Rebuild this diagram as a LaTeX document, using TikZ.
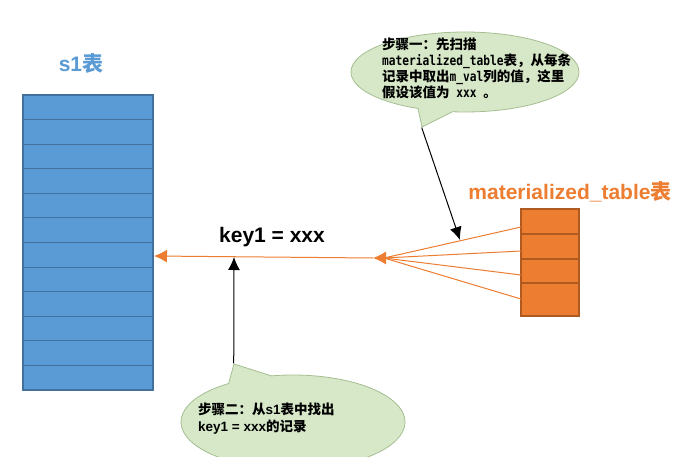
\documentclass[tikz,border=0pt]{standalone}
\usepackage{fontspec}
\setmainfont{Liberation Sans}
\newfontfamily\cjk{Noto Sans CJK SC}
\newfontfamily\monof[FakeStretch=0.83]{DejaVu Sans Mono}
\usetikzlibrary{shapes.callouts,arrows.meta}
\definecolor{tblblue}{RGB}{91,155,213}
\definecolor{tblblueedge}{RGB}{65,113,156}
\definecolor{tblorange}{RGB}{237,125,49}
\definecolor{tblorangeedge}{RGB}{174,90,33}
\definecolor{bubblefill}{RGB}{214,232,200}
\definecolor{bubbleedge}{RGB}{165,190,145}
\newcommand\zh[1]{{\cjk\bfseries #1}}
\newcommand\mn[1]{{\monof\bfseries #1}}
\tikzset{
  bluerow/.style={draw=tblblueedge,fill=tblblue,line width=1.1pt,minimum width=130,minimum height=24.58,inner sep=0,outer sep=0},
  orangerow/.style={draw=tblorangeedge,fill=tblorange,line width=1.1pt,minimum width=58,inner sep=0,outer sep=0},
  orangeline/.style={draw=tblorange,line width=1pt},
  blackarrow/.style={draw=black,line width=1pt,-{Latex[length=13,width=12]}},
  bubble/.style={ellipse callout,draw=bubbleedge,fill=bubblefill,line width=0.8pt,inner sep=0},
  title/.style={font=\fontsize{21}{25}\selectfont\bfseries,inner sep=0},
  toptext/.style={font=\fontsize{13.5}{16}\selectfont,align=left,anchor=north west,inner sep=0},
  bottext/.style={font=\fontsize{13.5}{17}\selectfont\bfseries,align=left,anchor=north west,inner sep=0},
}
\begin{document}
\begin{tikzpicture}[x=1pt,y=-1pt]
\useasboundingbox (0,0) rectangle (687,457);
\clip (0,0) rectangle (687,457);
\fill[white] (0,0) rectangle (687,457);

% s1 table
\foreach \i in {1,...,12} {
  \node[bluerow] (b\i) at (88,{95+24.58*(\i-0.5)}) {};
}
\node[title,text=tblblue] (t1) at (81,64) {s1\zh{表}};

% materialized table
\node[orangerow,minimum height=25] (o1) at (550,221.5) {};
\node[orangerow,minimum height=25] (o2) at (550,246.5) {};
\node[orangerow,minimum height=24] (o3) at (550,271) {};
\node[orangerow,minimum height=33] (o4) at (550,299.5) {};
\node[title,text=tblorange] (t2) at (570,192) {materialized\_table\zh{表}};

% connectors
\coordinate (p1) at (521,227);
\coordinate (p2) at (521,251);
\coordinate (p3) at (521,275);
\coordinate (p4) at (521,299);
\coordinate (conv) at (384,258);
\coordinate (convtip) at (373,258);
\coordinate (s1hit) at (154,256);
\foreach \p in {p1,p2,p3,p4} { \draw[orangeline] (\p) -- (conv); }
\draw[orangeline,-{Latex[length=13,width=13]}] (conv) -- (convtip);
\draw[orangeline,-{Latex[length=13,width=13]}] (convtip) -- (s1hit);

\node[title] (k) at (272,237) {key1 = xxx};

% bubbles
\node[bubble,minimum width=228,minimum height=80,callout pointer arc=18,
      callout absolute pointer={(422,127)}] (top) at (465,72) {};
\node[toptext] (txt1) at (382,38) {\zh{步骤一：先扫描}\\
\mn{materialized\_table}\zh{表，从每条}\\
\zh{记录中取出}\mn{m\_val}\zh{列的值，这里}\\
\zh{假设该值为}\mn{\ xxx }\zh{。}};

\node[bubble,minimum width=224,minimum height=94,callout pointer arc=24,
      callout absolute pointer={(234,364)}] (bot) at (293,422) {};
\node[bottext] (txt2) at (198,403) {\zh{步骤二：从}s1\zh{表中找出}\\
key1 = xxx\zh{的记录}};

\coordinate (hit1) at (460,240);
\coordinate (hit2) at (234,257);
\draw[blackarrow] (top.pointer) -- (hit1);
\draw[blackarrow] (bot.pointer) -- (hit2);
\end{tikzpicture}
\end{document}
